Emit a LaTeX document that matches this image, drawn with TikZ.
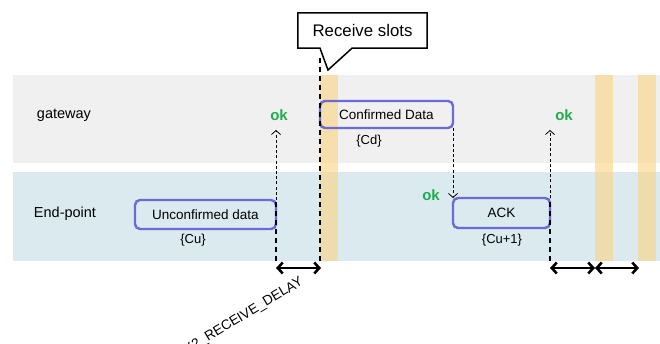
\documentclass[tikz,border=0pt]{standalone}
\usepackage{fontspec}
\setmainfont{Liberation Sans}
\usetikzlibrary{arrows.meta}
\definecolor{gwband}{RGB}{240,240,240}
\definecolor{epband}{RGB}{218,234,238}
\definecolor{slotcol}{RGB}{250,213,138}
\definecolor{boxcol}{RGB}{106,106,216}
\definecolor{okgreen}{RGB}{34,172,80}
\tikzset{
  lane/.style={font=\fontsize{14.5}{16}\selectfont, inner sep=0pt},
  lbl/.style={font=\fontsize{13.7}{15}\selectfont, inner sep=0pt},
  small/.style={font=\fontsize{13}{15}\selectfont, inner sep=0pt},
  msg/.style={draw=boxcol, line width=2.4pt, rounded corners=5pt,
    font=\fontsize{13.5}{15}\selectfont, inner sep=0pt, outer sep=0pt},
  oklbl/.style={font=\fontsize{15}{17}\selectfont\bfseries, text=okgreen, inner sep=0pt},
  slot/.style={fill=slotcol, fill opacity=0.65},
  thickdash/.style={line width=1.6pt, dash pattern=on 5pt off 4pt},
  thindash/.style={line width=0.8pt, dash pattern=on 3pt off 2.2pt,
    -{Straight Barb[length=4pt,width=9pt,line width=0.8pt]}},
  span/.style={line width=2.6pt,
    {Straight Barb[length=5pt,width=11pt]}-{Straight Barb[length=5pt,width=11pt]}},
  calloutfont/.style={font=\fontsize{16.8}{18}\selectfont, inner sep=0pt},
}
\begin{document}
\begin{tikzpicture}[x=1pt,y=-1pt]
\useasboundingbox (0,0) rectangle (660,344);

% lanes
\fill[gwband] (13,75) rectangle (660,163);
\fill[epband] (13,172) rectangle (660,261);

% receive windows
\fill[slot] (320,75) rectangle (338,261);
\fill[slot] (595,75) rectangle (613,261);
\fill[slot] (638,75) rectangle (656,261);

% lane names
\node[lane] (gw) at (64,115) {gateway};
\node[lane] (ep) at (65,214) {End-point};

% frames
\node[msg, minimum width=141, minimum height=29] (uc) at (205.5,214.5) {Unconfirmed data};
\node[msg, minimum width=133, minimum height=27] (cd) at (386.5,114.5) {Confirmed Data};
\node[msg, minimum width=97, minimum height=30] (ack) at (501.5,213) {ACK};

\node[small] (cu) at (193,240) {\{Cu\}};
\node[small] (cdl) at (369,141) {\{Cd\}};
\node[small] (cu1) at (502,240) {\{Cu+1\}};

% acknowledgements
\node[oklbl] (ok1) at (279,115) {ok};
\node[oklbl] (ok2) at (431,195) {ok};
\node[oklbl] (ok3) at (564,115) {ok};

% time marks
\coordinate (t0) at (276,261);
\coordinate (t1) at (320,261);
\coordinate (t2) at (550,261);
\coordinate (top) at (320,56);
\coordinate (up1) at (276,130);
\coordinate (up2) at (550,130);

\draw[thickdash] (t0) -- (uc.north east);
\draw[thindash] (uc.north east) -- (up1);
\draw[thickdash] (t1) -- (top);
\draw[thindash] (cd.south east) -- (ack.north west);
\draw[thickdash] (t2) -- (ack.north east);
\draw[thindash] (ack.north east) -- (up2);

% intervals
\coordinate (a0) at (276,268);
\coordinate (a1) at (321,268);
\coordinate (a2) at (550,268);
\coordinate (a3) at (595,268);
\coordinate (a4) at (639,268);
\draw[span] (a0) -- (a1);
\draw[span] (a2) -- (a3);
\draw[span] (a3) -- (a4);

\node[lbl, rotate=31, anchor=base east] (delay) at (304,284) {RX2\_RECEIVE\_DELAY};

% callout
\node[minimum width=129, minimum height=35, inner sep=0pt] (rs) at (362.5,30.5) {};
\coordinate (tip) at (328,70);
\draw[line width=1.5pt, fill=white, line join=miter]
  (rs.north west) -- (rs.north east) -- (rs.south east)
  -- ([xshift=-10.5]rs.south) -- (tip) -- ([xshift=-42.5]rs.south)
  -- (rs.south west) -- cycle;
\node[calloutfont] (rstext) at (rs.center) {Receive slots};
\end{tikzpicture}
\end{document}
